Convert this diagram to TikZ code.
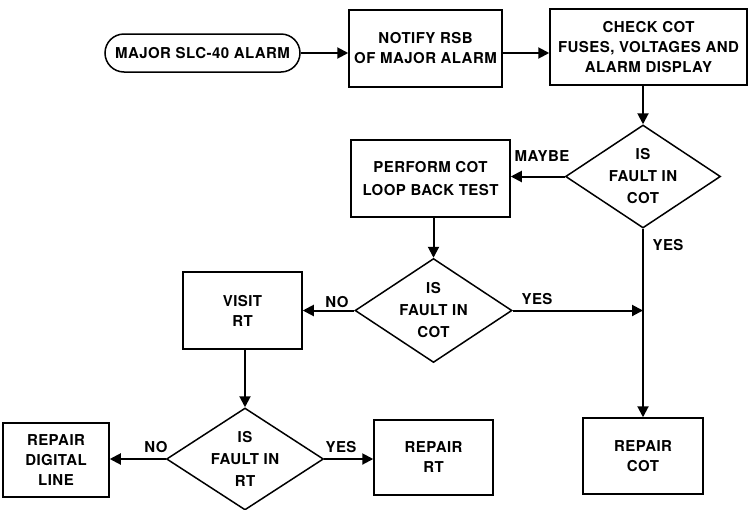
\documentclass[tikz,border=0pt]{standalone}
\usepackage{fontspec}
\setmainfont[LetterSpace=3]{TeX Gyre Heros}
\usetikzlibrary{shapes.geometric,arrows.meta}
\newcommand\flowfont{\fontsize{15}{20}\selectfont\bfseries}
\begin{document}
\begin{tikzpicture}[x=1pt,y=-1pt,
  box/.style={draw, line width=1.5pt, align=center, inner sep=0pt, font=\flowfont},
  term/.style={box, rounded corners=19pt},
  dia/.style={draw, diamond, line width=1.5pt, inner sep=0pt},
  dtext/.style={align=center, font=\fontsize{15}{22}\selectfont\bfseries},
  lab/.style={font=\flowfont, inner sep=0pt},
  arr/.style={line width=2pt, -{Triangle[length=11pt,width=11pt]}}]
\useasboundingbox (0,0) rectangle (749,509);
\node[term, minimum width=195pt, minimum height=38pt] (start) at (202.5,53) {MAJOR SLC-40 ALARM};
\node[box, minimum width=153pt, minimum height=77pt] (notify) at (425.5,48.5) {NOTIFY RSB\\OF MAJOR ALARM};
\node[box, minimum width=197pt, minimum height=76pt] (check) at (648.5,47) {CHECK COT\\FUSES, VOLTAGES AND\\ALARM DISPLAY};
\node[dia, minimum width=155pt, minimum height=103pt] (d1) at (643,176.5) {};
\node[dtext] (d1t) at (d1.center) {IS\\FAULT IN\\COT};
\node[box, minimum width=159pt, minimum height=77pt, font=\fontsize{15}{23}\selectfont\bfseries] (perform) at (430.5,178.5) {PERFORM COT\\LOOP BACK TEST};
\node[dia, minimum width=157pt, minimum height=104pt] (d2) at (433.5,310.5) {};
\node[dtext] (d2t) at (d2.center) {IS\\FAULT IN\\COT};
\node[box, minimum width=119pt, minimum height=77pt] (visit) at (242.5,310.5) {VISIT\\RT};
\node[dia, minimum width=157pt, minimum height=102pt] (d3) at (245,459) {};
\node[dtext] (d3t) at (d3.center) {IS\\FAULT IN\\RT};
\node[box, minimum width=106pt, minimum height=74pt] (rdl) at (56,460) {REPAIR\\DIGITAL\\LINE};
\node[box, minimum width=119pt, minimum height=75pt] (rrt) at (433.5,457.5) {REPAIR\\RT};
\node[box, minimum width=120pt, minimum height=76pt] (rcot) at (643,456) {REPAIR\\COT};
\coordinate (j) at (d1.south |- d2.east);

\draw[arr] (start.east) -- (start.east -| notify.west);
\draw[arr] (notify.east |- start.east) -- (check.west |- start.east);
\draw[arr] (d1.north |- check.south) -- (d1.north);
\draw[arr] (d1.west) -- (d1.west -| perform.east);
\draw[arr] (d2.north |- perform.south) -- (d2.north);
\draw[arr] (d2.west) -- (d2.west -| visit.east);
\draw[arr] (d2.east) -- (j);
\draw[arr] (d1.south) -- (rcot.north);
\draw[arr] (d3.north |- visit.south) -- (d3.north);
\draw[arr] (d3.west) -- (d3.west -| rdl.east);
\draw[arr] (d3.east) -- (d3.east -| rrt.west);

\node[lab] (lmaybe) at (542,156) {MAYBE};
\node[lab] (lyes1) at (668,245) {YES};
\node[lab] (lyes2) at (537,299) {YES};
\node[lab] (lno2) at (337,302) {NO};
\node[lab] (lno3) at (156,447) {NO};
\node[lab] (lyes3) at (341,447) {YES};
\end{tikzpicture}
\end{document}
